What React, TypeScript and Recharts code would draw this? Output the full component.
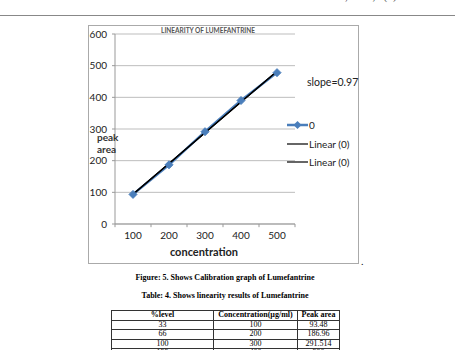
import React from 'react'
import { LineChart, Line, XAxis, YAxis, CartesianGrid, ReferenceLine } from 'recharts'

const concentrations = [100, 200, 300, 400, 500]
const peakAreas = [93.48, 186.96, 291.514, 390, 478]
const trendValues = [94, 191, 288, 385, 482]
const levels = [33, 66, 100, 133, 166]
const yTicks = [0, 100, 200, 300, 400, 500, 600]
const bandEdges = [50, 150, 250, 350, 450, 550]
const legendItems = ['0', 'Linear (0)', 'Linear (0)']

const data = concentrations.map((c, i) => ({ conc: c, peak: peakAreas[i], trend: trendValues[i] }))

const chartFont = 'Lato, "Open Sans", sans-serif'
const serif = '"Liberation Serif", "Times New Roman", serif'
const blue = '#4a7ebb'

function Diamond(props: any) {
  const { cx, cy } = props
  if (cx == null || cy == null) return null
  const r = 4
  return <path d={`M${cx},${cy - r}L${cx + r},${cy}L${cx},${cy + r}L${cx - r},${cy}Z`} fill={blue} stroke={blue} />
}

const abs = (left: number, top: number, extra: React.CSSProperties = {}): React.CSSProperties => ({
  position: 'absolute',
  left,
  top,
  whiteSpace: 'nowrap',
  ...extra,
})

const cell: React.CSSProperties = { border: '1px solid #333', padding: 0, lineHeight: '8px', textAlign: 'center' }

export default function App() {
  return (
    <div style={{ position: 'absolute', left: 0, top: 0, width: 461, height: 350, overflow: 'hidden', background: '#fff' }}>
      {/* running header, cut off at the top */}
      <div style={abs(0, -10, { fontFamily: serif, fontSize: 11, color: '#444' })}>Mohammed Hasan et al.</div>
      <div style={abs(250, -10, { fontFamily: serif, fontSize: 11, color: '#444' })}>J. Chem. Pharm. Res., 2015, 7(3):374-379</div>
      <div style={abs(0, 15, { width: 455, borderTop: '1px solid #888' })} />

      {/* chart */}
      <div style={abs(88, 25, { width: 271, height: 239 })}>
        <LineChart width={271} height={239} data={data} margin={{ top: 9, right: 64, bottom: 0, left: 0 }}>
          <CartesianGrid vertical={false} stroke="#bdbdbd" />
          <XAxis
            dataKey="conc"
            type="number"
            domain={[50, 550]}
            ticks={concentrations}
            tickLine={false}
            tickSize={0}
            tickMargin={8}
            height={40}
            axisLine={{ stroke: '#999' }}
            tick={{ fontSize: 10, fill: '#222', fontFamily: chartFont }}
          />
          <YAxis
            domain={[0, 600]}
            ticks={yTicks}
            width={27}
            tickSize={3}
            tickMargin={5}
            axisLine={{ stroke: '#999' }}
            tickLine={{ stroke: '#999' }}
            tick={{ fontSize: 10, fill: '#222', fontFamily: chartFont }}
          />
          {bandEdges.map((e) => (
            <ReferenceLine
              key={e}
              segment={[{ x: e, y: 0 }, { x: e, y: -10 }]}
              stroke="#999"
              ifOverflow="visible"
            />
          ))}
          <Line dataKey="peak" stroke={blue} strokeWidth={2.5} dot={<Diamond />} isAnimationActive={false} />
          <Line dataKey="trend" stroke="#000" strokeWidth={1.3} dot={false} isAnimationActive={false} />
          <Line dataKey="trend" stroke="#000" strokeWidth={1.3} dot={false} isAnimationActive={false} />
        </LineChart>
      </div>
      <div style={abs(88, 25, { width: 271, height: 239, border: '1px solid #aaa', boxSizing: 'border-box', pointerEvents: 'none' })} />
      <div style={abs(361, 256, { fontFamily: serif, fontSize: 10 })}>.</div>

      {/* chart texts */}
      <div style={abs(208, 27, { transform: 'translateX(-50%)', fontFamily: chartFont, fontSize: 6.5, fontWeight: 700, color: '#555' })}>
        LINEARITY OF LUMEFANTRINE
      </div>
      <div style={abs(97, 131, { fontFamily: chartFont, fontSize: 10, fontWeight: 700, color: '#333', lineHeight: '12px' })}>
        peak
        <br />
        area
      </div>
      <div style={abs(204, 245, { transform: 'translateX(-50%)', fontFamily: chartFont, fontSize: 11, fontWeight: 700, color: '#222' })}>
        concentration
      </div>
      <div style={abs(307, 76, { fontFamily: chartFont, fontSize: 10.5, color: '#222' })}>slope=0.97</div>

      {/* legend */}
      {legendItems.map((name, i) => (
        <div key={i} style={abs(287, 119 + i * 18.5, { display: 'flex', alignItems: 'center', fontFamily: chartFont, fontSize: 10, color: '#222' })}>
          <svg width={21} height={10}>
            <line x1={0} y1={5} x2={21} y2={5} stroke={i === 0 ? blue : '#000'} strokeWidth={i === 0 ? 2.5 : 1.2} />
            {i === 0 && <path d="M10.5,1L14.5,5L10.5,9L6.5,5Z" fill={blue} />}
          </svg>
          <span style={{ marginLeft: 1 }}>{name}</span>
        </div>
      ))}

      {/* captions */}
      <div style={abs(225, 273, { transform: 'translateX(-50%)', fontFamily: serif, fontSize: 8, fontWeight: 700 })}>
        Figure: 5. Shows Calibration graph of Lumefantrine
      </div>
      <div style={abs(225, 291, { transform: 'translateX(-50%)', fontFamily: serif, fontSize: 8, fontWeight: 700 })}>
        Table: 4. Shows linearity results of Lumefantrine
      </div>

      {/* table */}
      <table
        style={{
          position: 'absolute',
          left: 111,
          top: 310,
          width: 228,
          borderCollapse: 'collapse',
          fontFamily: serif,
          fontSize: 8,
          tableLayout: 'fixed',
        }}
      >
        <colgroup>
          <col style={{ width: 102 }} />
          <col style={{ width: 84 }} />
          <col style={{ width: 42 }} />
        </colgroup>
        <thead>
          <tr style={{ height: 9.5 }}>
            {['%level', 'Concentration(µg/ml)', 'Peak area'].map((h) => (
              <th key={h} style={{ ...cell, fontWeight: 700 }}>{h}</th>
            ))}
          </tr>
        </thead>
        <tbody>
          {levels.map((lv, i) => (
            <tr key={lv} style={{ height: 9.5 }}>
              <td style={cell}>{lv}</td>
              <td style={cell}>{concentrations[i]}</td>
              <td style={cell}>{peakAreas[i]}</td>
            </tr>
          ))}
        </tbody>
      </table>
    </div>
  )
}
